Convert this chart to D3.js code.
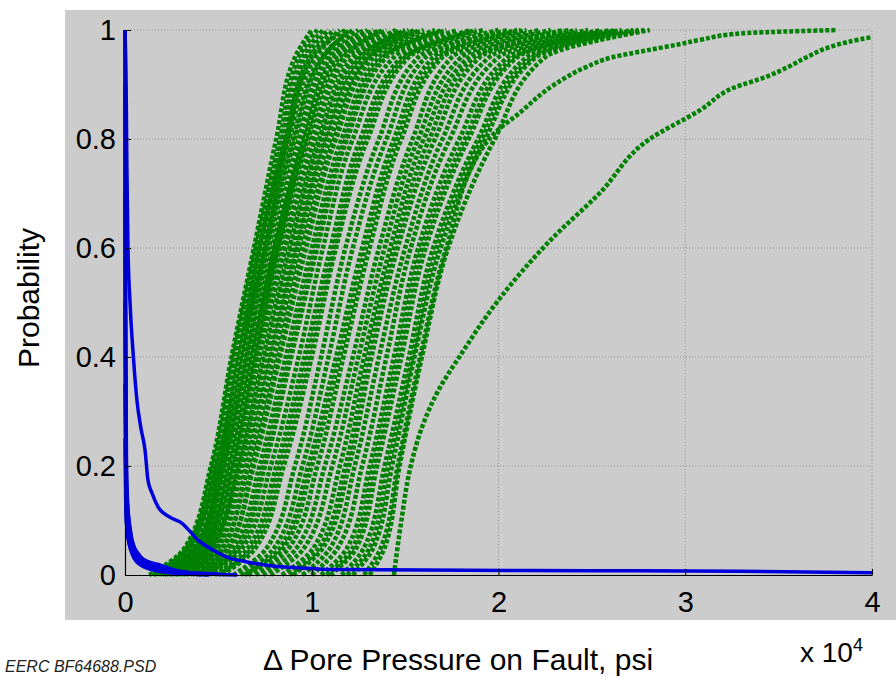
<!DOCTYPE html>
<html>
<head>
<meta charset="utf-8">
<script src="https://cdn.jsdelivr.net/npm/d3@7"></script>
<style>
  html, body { margin: 0; padding: 0; background: #ffffff; }
  svg { display: block; font-family: "Liberation Sans", Arial, sans-serif; }
</style>
</head>
<body>
<svg id="chart" width="896" height="679"></svg>
<script>
// Probability levels at which each green exceedance curve is sampled
const probLevels = [0, 0.05, 0.2, 0.4, 0.6, 0.8, 0.95, 1];

// Green curves: pressure change (x 10^4 psi) at each probability level
const greenCurves = [
  [0.13, 0.32, 0.46, 0.57, 0.69, 0.81, 0.91, 1.00],
  [0.16, 0.33, 0.47, 0.58, 0.70, 0.83, 0.93, 1.03],
  [0.18, 0.35, 0.48, 0.59, 0.71, 0.84, 0.95, 1.06],
  [0.19, 0.36, 0.50, 0.60, 0.73, 0.85, 0.97, 1.09],
  [0.15, 0.34, 0.49, 0.61, 0.72, 0.86, 0.99, 1.12],
  [0.22, 0.38, 0.51, 0.62, 0.75, 0.88, 1.02, 1.15],
  [0.21, 0.39, 0.52, 0.63, 0.74, 0.87, 1.00, 1.18],
  [0.20, 0.37, 0.52, 0.64, 0.76, 0.90, 1.05, 1.22],
  [0.23, 0.40, 0.53, 0.65, 0.77, 0.91, 1.06, 1.20],
  [0.25, 0.41, 0.54, 0.66, 0.79, 0.93, 1.08, 1.25],
  [0.26, 0.43, 0.55, 0.67, 0.81, 0.95, 1.10, 1.28],
  [0.24, 0.42, 0.56, 0.68, 0.80, 0.96, 1.12, 1.30],
  [0.29, 0.44, 0.57, 0.69, 0.82, 0.97, 1.13, 1.33],
  [0.28, 0.45, 0.58, 0.70, 0.83, 0.98, 1.15, 1.36],
  [0.31, 0.48, 0.59, 0.71, 0.85, 1.00, 1.17, 1.38],
  [0.30, 0.47, 0.60, 0.72, 0.86, 1.02, 1.19, 1.40],
  [0.27, 0.46, 0.61, 0.74, 0.88, 1.04, 1.22, 1.45],
  [0.32, 0.49, 0.62, 0.75, 0.89, 1.05, 1.24, 1.47],
  [0.33, 0.50, 0.63, 0.77, 0.91, 1.07, 1.26, 1.50],
  [0.36, 0.53, 0.65, 0.78, 0.92, 1.08, 1.28, 1.52],
  [0.35, 0.52, 0.66, 0.80, 0.93, 1.10, 1.30, 1.55],
  [0.39, 0.56, 0.68, 0.82, 0.95, 1.12, 1.31, 1.58],
  [0.38, 0.55, 0.69, 0.83, 0.97, 1.13, 1.33, 1.60],
  [0.40, 0.58, 0.72, 0.86, 1.00, 1.16, 1.36, 1.66],
  [0.42, 0.60, 0.74, 0.88, 1.02, 1.18, 1.38, 1.70],
  [0.43, 0.61, 0.75, 0.89, 1.03, 1.19, 1.40, 1.72],
  [0.45, 0.63, 0.78, 0.93, 1.06, 1.22, 1.44, 1.78],
  [0.48, 0.66, 0.81, 0.96, 1.10, 1.26, 1.48, 1.85],
  [0.50, 0.68, 0.83, 0.98, 1.12, 1.28, 1.50, 1.88],
  [0.52, 0.70, 0.85, 1.00, 1.13, 1.30, 1.52, 1.92],
  [0.58, 0.76, 0.91, 1.05, 1.18, 1.36, 1.57, 2.00],
  [0.62, 0.80, 0.95, 1.09, 1.22, 1.40, 1.61, 2.05],
  [0.64, 0.83, 0.98, 1.13, 1.27, 1.44, 1.65, 2.10],
  [0.66, 0.85, 1.00, 1.15, 1.29, 1.46, 1.68, 2.12],
  [0.70, 0.88, 1.03, 1.17, 1.31, 1.48, 1.70, 2.15],
  [0.74, 0.92, 1.07, 1.22, 1.36, 1.54, 1.75, 2.22],
  [0.78, 0.96, 1.11, 1.25, 1.39, 1.57, 1.80, 2.28],
  [0.84, 1.01, 1.15, 1.28, 1.42, 1.60, 1.84, 2.35],
  [0.88, 1.04, 1.18, 1.30, 1.44, 1.63, 1.87, 2.38],
  [0.90, 1.06, 1.20, 1.32, 1.46, 1.66, 1.90, 2.42],
  [0.95, 1.10, 1.23, 1.36, 1.50, 1.70, 1.95, 2.48],
  [1.00, 1.14, 1.27, 1.40, 1.53, 1.74, 2.00, 2.55],
  [1.05, 1.19, 1.31, 1.44, 1.57, 1.79, 2.05, 2.60],
  [1.08, 1.22, 1.33, 1.46, 1.59, 1.82, 2.08, 2.63],
  [1.10, 1.24, 1.35, 1.48, 1.61, 1.84, 2.10, 2.66],
  [1.16, 1.28, 1.39, 1.52, 1.65, 1.89, 2.15, 2.72],
  [1.19, 1.31, 1.41, 1.54, 1.67, 1.91, 2.18, 2.75],
  [1.22, 1.33, 1.43, 1.55, 1.69, 1.93, 2.20, 2.78],
  [1.31, 1.39, 1.47, 1.59, 1.73, 1.98, 2.25, 2.81]
];

// Two slow green curves with long upper tails: [x (x 10^4 psi), probability]
const greenTailA = [
  [1.28, 0], [1.37, 0.05], [1.46, 0.2], [1.58, 0.4], [1.72, 0.6], [1.95, 0.8],
  [2.12, 0.85], [2.30, 0.9], [2.47, 0.932], [2.61, 0.95], [2.80, 0.963],
  [2.97, 0.974], [3.08, 0.982], [3.31, 0.994], [3.44, 0.996], [3.81, 1.0]
];
const greenTailB = [
  [1.44, 0], [1.48, 0.1], [1.53, 0.2], [1.60, 0.28], [1.68, 0.34], [1.79, 0.4],
  [1.99, 0.5], [2.28, 0.615], [2.54, 0.7], [2.81, 0.8], [3.08, 0.853],
  [3.26, 0.894], [3.44, 0.915], [3.55, 0.932], [3.65, 0.95], [3.76, 0.967],
  [3.87, 0.978], [4.0, 0.987]
];

// Blue curves: [x (x 10^4 psi), probability]
const blueMain = [
  [0, 1], [0.006, 0.9], [0.01, 0.75], [0.016, 0.6], [0.027, 0.5], [0.045, 0.4],
  [0.064, 0.32], [0.085, 0.27], [0.107, 0.23], [0.123, 0.174], [0.145, 0.15],
  [0.177, 0.125], [0.241, 0.106], [0.305, 0.095], [0.332, 0.086], [0.391, 0.064],
  [0.471, 0.046], [0.546, 0.033], [0.653, 0.024], [0.793, 0.0165], [0.937, 0.013],
  [1.114, 0.01], [1.6, 0.009], [2.5, 0.008], [3.3, 0.007], [4.0, 0.004]
];
const blueFast = [
  [[0, 1], [0.002, 0.6], [0.005, 0.3], [0.01, 0.15], [0.03, 0.08], [0.06, 0.04], [0.1, 0.02], [0.15, 0.01], [0.25, 0.004], [0.45, 0]],
  [[0, 1], [0.003, 0.5], [0.008, 0.2], [0.02, 0.1], [0.04, 0.06], [0.08, 0.035], [0.13, 0.02], [0.2, 0.01], [0.3, 0.004], [0.6, 0]],
  [[0, 0.9], [0.002, 0.4], [0.006, 0.15], [0.015, 0.07], [0.05, 0.03], [0.1, 0.015], [0.17, 0.008], [0.35, 0.002]],
  [[0, 0.7], [0.003, 0.3], [0.01, 0.12], [0.025, 0.055], [0.07, 0.028], [0.16, 0.012], [0.3, 0.005], [0.5, 0.002]],
  [[0, 0.5], [0.004, 0.2], [0.012, 0.09], [0.04, 0.045], [0.09, 0.03], [0.18, 0.016], [0.24, 0.006], [0.4, 0.001]],
  [[0, 0.35], [0.005, 0.14], [0.02, 0.07], [0.06, 0.04], [0.12, 0.025], [0.19, 0.018], [0.28, 0.008], [0.45, 0.002]],
  [[0, 0.25], [0.006, 0.1], [0.03, 0.05], [0.08, 0.03], [0.14, 0.02], [0.2, 0.012], [0.33, 0.005]]
];

const xTicks = [0, 1, 2, 3, 4];
const yTicks = [0, 0.2, 0.4, 0.6, 0.8, 1];

const svg = d3.select("#chart");

// Figure background
svg.append("rect")
  .attr("x", 65).attr("y", 10).attr("width", 831).attr("height", 610)
  .attr("fill", "#cccccc");

const x = d3.scaleLinear().domain([0, 4]).range([125, 872]);
const y = d3.scaleLinear().domain([0, 1]).range([575, 30]);

// Dotted grid
const grid = svg.append("g");
grid.selectAll("line.gx").data(xTicks.slice(1)).join("line")
  .attr("x1", d => x(d)).attr("x2", d => x(d))
  .attr("y1", y(0)).attr("y2", y(1))
  .attr("stroke", "#8c8c8c").attr("stroke-width", 1).attr("stroke-dasharray", "1,2");
grid.selectAll("line.gy").data(yTicks.slice(1)).join("line")
  .attr("x1", x(0)).attr("x2", x(4))
  .attr("y1", d => y(d)).attr("y2", d => y(d))
  .attr("stroke", "#8c8c8c").attr("stroke-width", 1).attr("stroke-dasharray", "1,2");

const plot = svg.append("g");

// Green curves
const lineByProb = d3.line()
  .x(d => x(d[0])).y(d => y(d[1]))
  .curve(d3.curveMonotoneY);

const greenSeries = greenCurves.map(c => c.map((v, i) => [v, probLevels[i]]));
greenSeries.push(greenTailA, greenTailB);

plot.selectAll("path.green").data(greenSeries).join("path")
  .attr("class", "green")
  .attr("d", lineByProb)
  .attr("fill", "none")
  .attr("stroke", "#008000")
  .attr("stroke-width", 4.5)
  .attr("stroke-dasharray", "4,2");

// Blue curves
const lineByX = d3.line()
  .x(d => x(d[0])).y(d => y(d[1]))
  .curve(d3.curveMonotoneX);

plot.selectAll("path.bluefast").data(blueFast).join("path")
  .attr("class", "bluefast")
  .attr("d", lineByX)
  .attr("fill", "none")
  .attr("stroke", "#0000dd")
  .attr("stroke-width", 3.5);

plot.append("path")
  .datum(blueMain)
  .attr("d", lineByX)
  .attr("fill", "none")
  .attr("stroke", "#0000dd")
  .attr("stroke-width", 3.5);

// Axes
const xAxis = d3.axisBottom(x).tickValues(xTicks).tickFormat(d3.format("d"))
  .tickSizeInner(-6).tickSizeOuter(0).tickPadding(16);
const yAxis = d3.axisLeft(y).tickValues(yTicks).tickFormat(d => String(d))
  .tickSizeInner(-6).tickSizeOuter(0).tickPadding(9);

const gx = svg.append("g").attr("transform", `translate(0,${y(0)})`).call(xAxis);
const gy = svg.append("g").attr("transform", `translate(${x(0)},0)`).call(yAxis);
[gx, gy].forEach(g => {
  g.select(".domain").attr("stroke", "#000").attr("stroke-width", 1.2);
  g.selectAll(".tick line").attr("stroke", "#000");
  g.selectAll(".tick text")
    .attr("fill", "#000")
    .style("font-size", "29px")
    .style("font-family", "'Liberation Sans', Arial, sans-serif");
});

// Axis titles
svg.append("text")
  .attr("transform", "translate(39,298) rotate(-90)")
  .attr("text-anchor", "middle")
  .style("font-size", "30px")
  .attr("fill", "#000")
  .text("Probability");

svg.append("text")
  .attr("x", 458).attr("y", 670)
  .attr("text-anchor", "middle")
  .style("font-size", "30px")
  .attr("fill", "#000")
  .text("\u0394 Pore Pressure on Fault, psi");

const mult = svg.append("text")
  .attr("x", 800).attr("y", 662)
  .style("font-size", "28px")
  .attr("fill", "#000");
mult.append("tspan").text("x 10");
mult.append("tspan").attr("dy", -11).style("font-size", "18px").text("4");

svg.append("text")
  .attr("x", 5).attr("y", 672)
  .style("font-size", "16px")
  .style("font-style", "italic")
  .attr("fill", "#222")
  .text("EERC BF64688.PSD");
</script>
</body>
</html>
